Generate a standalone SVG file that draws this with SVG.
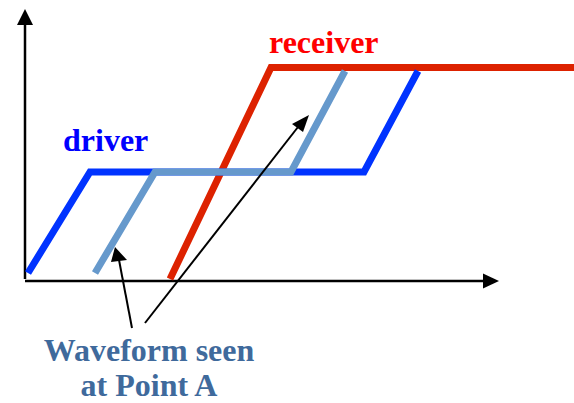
<svg xmlns="http://www.w3.org/2000/svg" width="574" height="403" viewBox="0 0 574 403">
<defs>
<style>
.ax{stroke:#000;stroke-width:2.5;fill:none}
.ann{stroke:#000;stroke-width:2;fill:none}
.w{fill:none;stroke-width:7;stroke-linejoin:miter}
.t{font-family:"Liberation Serif","Times New Roman",serif;font-weight:bold;font-size:32px}
</style>
</defs>
<g id="axes">
<line class="ax" x1="25" y1="279" x2="25" y2="24"/>
<polygon points="25,9 17,25 33,25" fill="#000"/>
<line class="ax" x1="25" y1="281" x2="484" y2="281"/>
<polygon points="499,281 483,273.5 483,288.5" fill="#000"/>
</g>
<g id="receiver">
<polyline class="w" stroke="#DD2200" points="170,279 271,67.5 574,67.5"/>
<text class="t" x="269" y="53" fill="#FF0000">receiver</text>
</g>
<g id="driver">
<polyline class="w" stroke="#0033FF" points="28,273 90,172 364,172 418,71"/>
<text class="t" x="63" y="151" fill="#0000FF">driver</text>
</g>
<g id="pointA">
<polyline class="w" stroke="#6699CC" points="95,273 155,172 291,172 345,71"/>
</g>
<g id="connectors">
<line class="ann" x1="132" y1="328" x2="119" y2="260"/>
<polygon points="115,247 111,262 127,260" fill="#000"/>
<line class="ann" x1="145" y1="323" x2="298" y2="127"/>
<polygon points="309,115 292,124 303,132" fill="#000"/>
</g>
<g id="label">
<text class="t" x="149" y="361" fill="#3F6A9C" text-anchor="middle">Waveform seen</text>
<text class="t" x="149" y="396" fill="#3F6A9C" text-anchor="middle">at Point A</text>
</g>
</svg>
